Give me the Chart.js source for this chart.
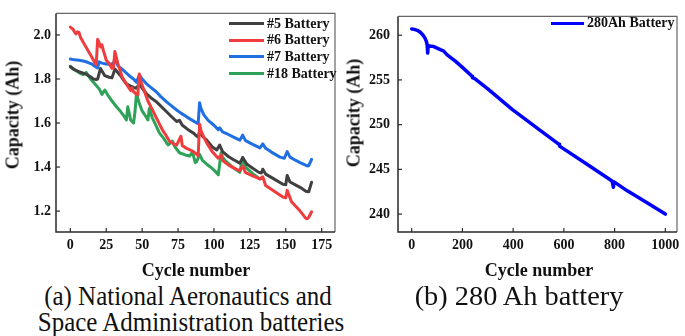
<!DOCTYPE html>
<html>
<head>
<meta charset="utf-8">
<script src="https://cdn.jsdelivr.net/npm/chart.js@4"></script>
<style>
  html, body { margin:0; padding:0; background:#fff; }
  body { width:685px; height:336px; position:relative; overflow:hidden; font-family:"Liberation Serif","Times New Roman",serif; }
  canvas { position:absolute; top:0; }
  .t { position:absolute; white-space:nowrap; color:#111; }
  .ytitle { font-weight:bold; font-size:18px; transform:translate(-50%,-50%) rotate(-90deg); }
  .xtitle { font-weight:bold; font-size:18px; transform:translate(-50%,-50%); }
  .cap { font-size:26.5px; transform:translate(-50%,-50%) scaleX(0.942); color:#111; }
  .leg { position:absolute; font-weight:bold; font-size:14px; color:#111; white-space:nowrap; }
  .leg i { position:absolute; height:3px; top:50%; margin-top:-1.5px; }
</style>
</head>
<body>
<canvas id="ca" width="345" height="260" style="left:0px;width:345px;height:260px"></canvas>
<canvas id="cb" width="340" height="260" style="left:345px;width:340px;height:260px"></canvas>

<div class="t ytitle" style="left:13px;top:115px">Capacity (Ah)</div>
<div class="t ytitle" style="left:354px;top:113px">Capacity (Ah)</div>
<div class="t xtitle" style="left:196px;top:270px">Cycle number</div>
<div class="t xtitle" style="left:539px;top:270px">Cycle number</div>
<div class="t cap" style="left:188px;top:296px">(a) National Aeronautics and</div>
<div class="t cap" style="left:191px;top:322px">Space Administration batteries</div>
<div class="t cap" style="left:519px;top:296px;transform:translate(-50%,-50%) scaleX(1.07)">(b) 280 Ah battery</div>
<div id="legA"></div>
<div id="legB"></div>

<script>
// ---------- data ----------
const xTicksA = [0, 25, 50, 75, 100, 125, 150, 175];
const yTicksA = [1.2, 1.4, 1.6, 1.8, 2.0];
const xTicksB = [0, 200, 400, 600, 800, 1000];
const yTicksB = [240, 245, 250, 255, 260];

const seriesNamesA = ["#5 Battery", "#6 Battery", "#7 Battery", "#18 Battery"];
const seriesColorsA = ["#404040", "#f03c3c", "#1f6fe3", "#2fa25a"];

const b5Cycles = [0,3,6,9,11,14,16,18,19,21,24,27,29,31,33,35,37,39,42,44,46,48,50,53,56,60,63,67,70,74,76,78,82,86,88,89,90,92,95,99,102,104,106,110,114,118,120,123,127,131,133,134,136,142,148,150,151,153,157,160,164,166,168];
const b5Capacity = [1.856,1.842,1.833,1.826,1.822,1.81,1.80,1.798,1.80,1.848,1.815,1.808,1.805,1.845,1.83,1.815,1.795,1.778,1.768,1.762,1.758,1.778,1.758,1.733,1.715,1.696,1.677,1.651,1.632,1.607,1.612,1.59,1.57,1.553,1.54,1.537,1.56,1.54,1.522,1.49,1.478,1.50,1.47,1.448,1.432,1.418,1.443,1.413,1.395,1.377,1.373,1.39,1.368,1.345,1.322,1.32,1.362,1.332,1.318,1.308,1.29,1.288,1.331];

const b6Cycles = [0,2,3,4,5,6,7,10,14,17,18,19,20,21,22,23,25,27,29,30,31,33,36,39,41,42,43,44,46,47,48,49,51,54,57,60,64,67,69,72,74,77,78,81,85,88,89,90,91,93,95,99,103,105,106,110,114,118,120,122,127,132,134,136,142,148,150,151,154,160,164,165,166,168];
const b6Capacity = [2.036,2.025,2.012,2.005,2.014,2.012,1.99,1.955,1.91,1.875,1.865,1.98,1.965,1.945,1.955,1.93,1.885,1.87,1.848,1.85,1.925,1.872,1.81,1.778,1.757,1.748,1.76,1.742,1.732,1.728,1.823,1.79,1.755,1.70,1.662,1.622,1.57,1.54,1.517,1.505,1.50,1.54,1.497,1.485,1.473,1.458,1.452,1.595,1.565,1.535,1.51,1.468,1.44,1.455,1.43,1.41,1.395,1.383,1.405,1.375,1.36,1.346,1.356,1.316,1.29,1.264,1.26,1.294,1.242,1.2,1.167,1.165,1.172,1.197];

const b7Cycles = [0,3,6,9,12,15,17,19,20,22,25,28,30,31,33,35,38,41,44,46,48,50,53,56,60,63,67,70,74,77,81,85,88,89,90,91,93,96,100,103,104,106,110,114,118,120,122,127,132,134,136,140,146,149,151,153,157,160,165,166,168];
const b7Capacity = [1.891,1.887,1.885,1.882,1.876,1.868,1.858,1.85,1.878,1.872,1.868,1.866,1.872,1.89,1.862,1.85,1.833,1.815,1.80,1.785,1.818,1.80,1.778,1.762,1.741,1.72,1.696,1.68,1.659,1.645,1.628,1.612,1.60,1.598,1.692,1.665,1.637,1.612,1.59,1.57,1.578,1.56,1.548,1.535,1.522,1.545,1.52,1.503,1.487,1.505,1.485,1.468,1.445,1.44,1.47,1.445,1.43,1.42,1.405,1.406,1.435];

const b18Cycles = [0,2,4,7,9,11,14,17,20,22,24,26,29,32,35,37,39,40,42,44,45,46,48,50,53,54,55,57,60,62,65,68,71,73,76,80,83,85,87,88,90,92,95,98,101,103,105,106,108,112,116,118,120,122,127,132];
const b18Capacity = [1.857,1.845,1.838,1.825,1.82,1.83,1.80,1.778,1.756,1.73,1.75,1.728,1.70,1.675,1.652,1.635,1.614,1.674,1.614,1.60,1.65,1.733,1.69,1.655,1.625,1.614,1.666,1.625,1.584,1.555,1.53,1.50,1.518,1.49,1.465,1.455,1.45,1.468,1.42,1.425,1.458,1.43,1.413,1.398,1.38,1.365,1.465,1.445,1.428,1.405,1.385,1.376,1.443,1.40,1.37,1.346];

const seriesNamesB = ["280Ah Battery"];
const seriesColorsB = ["#0000ff"];
const lfpCycles = [0,10,25,35,45,52,58,61,63,65,70,85,100,115,125,140,172,200,238,240,251,300,396,500,581,583,700,790,795,798,850,920,1000];
const lfpCapacity = [260.7,260.65,260.5,260.3,260.0,259.7,259.3,258.9,258.0,258.8,258.8,258.75,258.55,258.35,258.25,257.8,257.1,256.4,255.4,255.25,255.1,254.0,251.7,249.5,247.8,247.6,245.4,243.7,243.0,243.6,242.6,241.4,240.0];

// ---------- helpers ----------
const pts = (xs, ys) => xs.map((x, i) => ({ x: x, y: ys[i] }));

const frameTicks = {
  id: 'frameTicks',
  afterDatasetsDraw(chart) {
    const { ctx, chartArea: a, scales } = chart;
    ctx.save();
    ctx.strokeStyle = '#666';
    ctx.lineWidth = 1.2;
    ctx.beginPath();
    ctx.moveTo(a.left, a.top); ctx.lineTo(a.right, a.top); ctx.lineTo(a.right, a.bottom);
    ctx.stroke();
    ctx.strokeStyle = '#2a2a2a';
    ctx.lineWidth = 1.5;
    ctx.beginPath();
    ctx.moveTo(a.left, a.top); ctx.lineTo(a.left, a.bottom); ctx.lineTo(a.right, a.bottom);
    ctx.stroke();
    ctx.lineWidth = 1.2;
    scales.x.ticks.forEach(t => {
      const px = scales.x.getPixelForValue(t.value);
      ctx.beginPath(); ctx.moveTo(px, a.bottom); ctx.lineTo(px, a.bottom - 4); ctx.stroke();
    });
    scales.y.ticks.forEach(t => {
      const py = scales.y.getPixelForValue(t.value);
      ctx.beginPath(); ctx.moveTo(a.left, py); ctx.lineTo(a.left + 4, py); ctx.stroke();
    });
    ctx.restore();
  }
};

function makeChart(id, W, H, area, datasets, xr, yr, xTicks, yTicks, yFmt, yPad) {
  const tickFont = { family: '"Liberation Serif", serif', size: 14, weight: 'bold' };
  return new Chart(document.getElementById(id), {
    type: 'line',
    data: { datasets },
    options: {
      responsive: false, animation: false, devicePixelRatio: 1,
      layout: { padding: { top: area.top, right: W - area.right, left: 0, bottom: 0 } },
      plugins: { legend: { display: false }, tooltip: { enabled: false } },
      elements: { point: { radius: 0 }, line: { tension: 0 } },
      scales: {
        x: {
          type: 'linear', min: xr[0], max: xr[1],
          afterBuildTicks: s => { s.ticks = xTicks.map(v => ({ value: v })); },
          afterFit: s => { s.height = H - area.bottom; },
          grid: { display: false, drawTicks: false, drawOnChartArea: false },
          border: { display: false },
          ticks: { font: tickFont, color: '#111', padding: 5, maxRotation: 0, autoSkip: false, callback: v => String(v) }
        },
        y: {
          type: 'linear', min: yr[0], max: yr[1],
          afterBuildTicks: s => { s.ticks = yTicks.map(v => ({ value: v })); },
          afterFit: s => { s.width = area.left; },
          grid: { display: false, drawTicks: false, drawOnChartArea: false },
          border: { display: false },
          ticks: { font: tickFont, color: '#111', padding: yPad, autoSkip: false, callback: yFmt }
        }
      }
    },
    plugins: [frameTicks]
  });
}

const dsA = [
  [b5Cycles, b5Capacity], [b6Cycles, b6Capacity], [b7Cycles, b7Capacity], [b18Cycles, b18Capacity]
].map((p, i) => ({
  label: seriesNamesA[i], data: pts(p[0], p[1]),
  borderColor: seriesColorsA[i], borderWidth: 3, fill: false, borderJoinStyle: 'round', borderCapStyle: 'round'
}));
// draw order: green at bottom, then red, black, blue on top
const orderA = [2, 1, 3, 4];
dsA.forEach((d, i) => d.order = orderA[i]);

makeChart('ca', 345, 260, { left: 56, right: 335, top: 10, bottom: 232 }, dsA,
  [-10, 184.3], [1.105, 2.098], xTicksA, yTicksA, v => Number(v).toFixed(1), 5);

const dsB = [{
  label: seriesNamesB[0], data: pts(lfpCycles, lfpCapacity),
  borderColor: seriesColorsB[0], borderWidth: 3.5, fill: false, borderJoinStyle: 'round', borderCapStyle: 'round'
}];
makeChart('cb', 340, 260, { left: 53, right: 332, top: 10, bottom: 232 }, dsB,
  [-54, 1046], [238.0, 262.1], xTicksB, yTicksB, v => String(v), 8);

// ---------- legends (real text) ----------
function legend(el, names, colors, x0, y0, dy, lineW) {
  const box = document.getElementById(el);
  names.forEach((n, i) => {
    const d = document.createElement('div');
    d.className = 'leg';
    d.style.left = (x0 + lineW + 3) + 'px';
    d.style.top = (y0 + i * dy - 9) + 'px';
    d.style.lineHeight = '18px';
    d.textContent = n;
    const ln = document.createElement('i');
    ln.style.left = -(lineW + 3) + 'px';
    ln.style.width = lineW + 'px';
    ln.style.background = colors[i];
    d.appendChild(ln);
    box.appendChild(d);
  });
}
legend('legA', seriesNamesA, seriesColorsA, 229, 23.5, 16.7, 35);
legend('legB', seriesNamesB, seriesColorsB, 551, 23, 16.7, 33);
</script>
</body>
</html>
